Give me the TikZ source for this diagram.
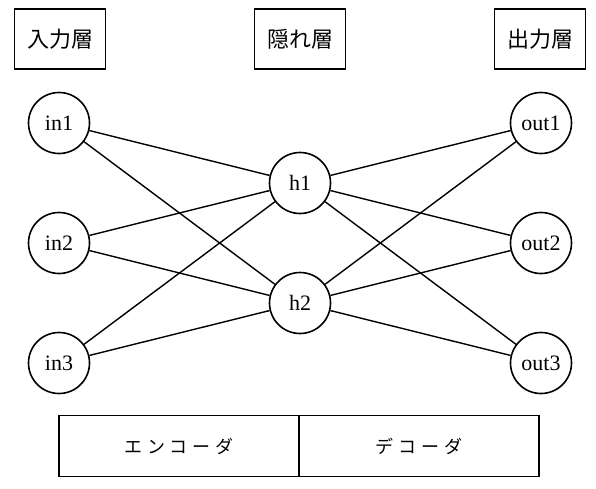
\documentclass[tikz,border=0pt]{standalone}
\usepackage{fontspec}
\setmainfont{Liberation Serif}
\newfontfamily\jpfont{Noto Sans CJK JP}
\newfontfamily\jpwide[LetterSpace=26]{Noto Sans CJK JP}

\begin{document}
\begin{tikzpicture}[x=1pt, y=-1pt]
    \tikzstyle{unit} += [draw=black, line width=1.6pt, circle, minimum size=61pt, inner sep=0pt, font=\fontsize{22}{22}\selectfont];
    \tikzstyle{layer} += [draw=black, line width=1.6pt, minimum width=91pt, minimum height=60pt, inner sep=0pt, font=\jpfont\fontsize{22}{22}\selectfont];
    \tikzstyle{part} += [draw=black, line width=1.8pt, minimum width=240pt, minimum height=61pt, inner sep=0pt, font=\jpwide\fontsize{18}{18}\selectfont];
    \useasboundingbox (0,0) rectangle (596,489);
    \node (Lin)  at ( 60, 39) [layer]{入力層};
    \node (Lhid) at (300, 39) [layer]{隠れ層};
    \node (Lout) at (540, 39) [layer]{出力層};
    \node (in1)  at ( 59,123) [unit]{in1};
    \node (in2)  at ( 59,243) [unit]{in2};
    \node (in3)  at ( 59,363) [unit]{in3};
    \node (h1)   at (300,183) [unit]{h1};
    \node (h2)   at (300,303) [unit]{h2};
    \node (out1) at (541,123) [unit]{out1};
    \node (out2) at (541,243) [unit]{out2};
    \node (out3) at (541,363) [unit]{out3};
    \node (enc)  at (179,446) [part]{エンコーダ};
    \node (dec)  at (419,446) [part]{デコーダ};

    \begin{scope}[line width=1.4pt]
      \draw (in1) -- (h1);
      \draw (in1) -- (h2);
      \draw (in2) -- (h1);
      \draw (in2) -- (h2);
      \draw (in3) -- (h1);
      \draw (in3) -- (h2);

      \draw (h1) -- (out1);
      \draw (h1) -- (out2);
      \draw (h1) -- (out3);
      \draw (h2) -- (out1);
      \draw (h2) -- (out2);
      \draw (h2) -- (out3);
    \end{scope}
  \end{tikzpicture}
\end{document}
